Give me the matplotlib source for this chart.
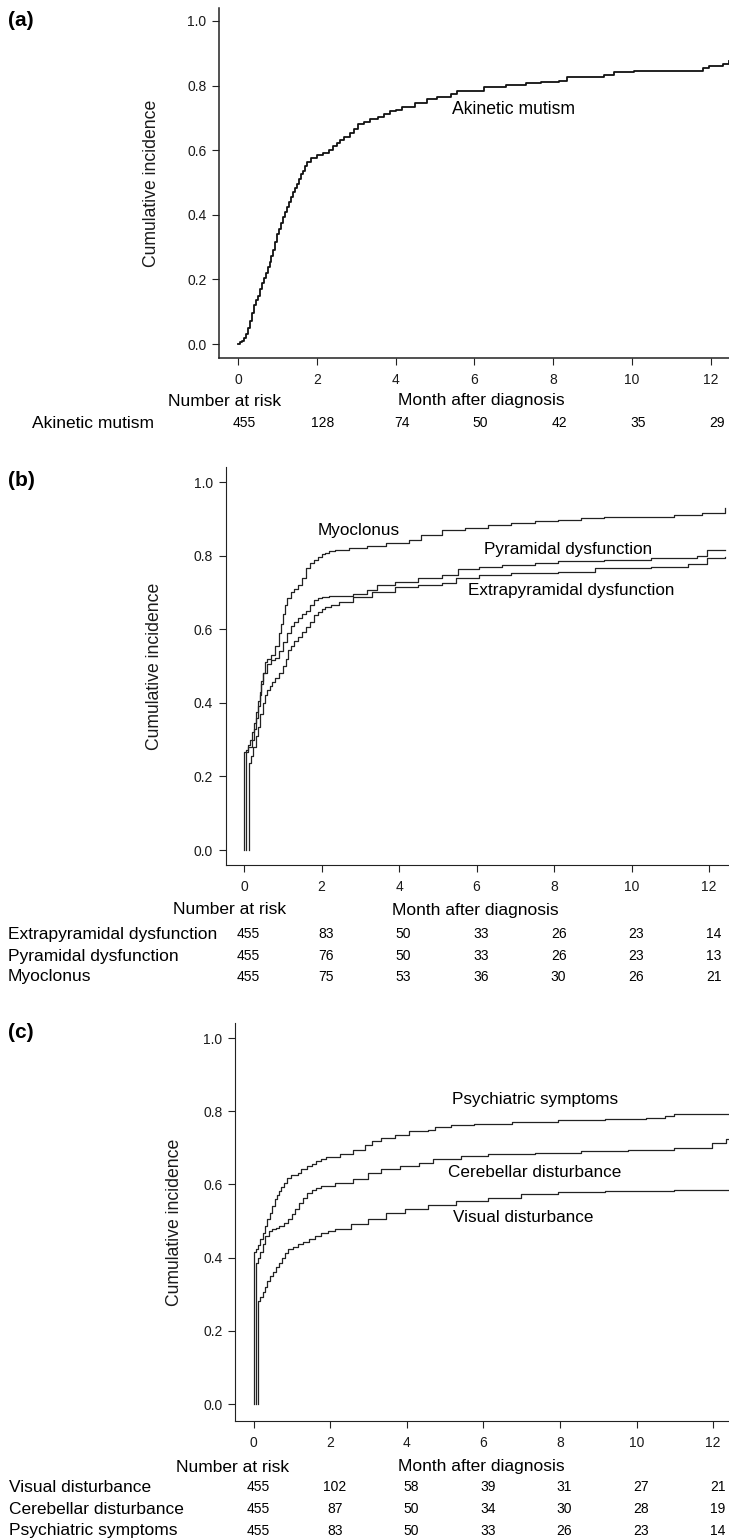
import matplotlib
matplotlib.use("Agg")
import matplotlib.pyplot as plt
import matplotlib.transforms as mtransforms

plt.rcParams['font.family'] = ['Liberation Sans', 'DejaVu Sans']

W, H = 729, 1540

months = [0, 2, 4, 6, 8, 10, 12]

# (a) akinetic mutism
akinetic_t = [0, 0.05, 0.1, 0.15, 0.2, 0.25, 0.3, 0.35, 0.4, 0.45, 0.5, 0.55, 0.6, 0.65, 0.7, 0.75,
              0.8, 0.85, 0.9, 0.95, 1.0, 1.05, 1.1, 1.15, 1.2, 1.25, 1.3, 1.35, 1.4, 1.45, 1.5, 1.55,
              1.6, 1.65, 1.7, 1.75, 1.85, 2.0, 2.15, 2.3, 2.4, 2.5, 2.6, 2.7, 2.85, 2.95, 3.05, 3.2,
              3.35, 3.55, 3.7, 3.85, 4.0, 4.15, 4.5, 4.8, 5.05, 5.4, 5.55, 6.25, 6.8, 7.3, 7.7, 8.15,
              8.35, 9.3, 9.55, 10.05, 11.8, 11.95, 12.3, 12.45]
akinetic_v = [0.0, 0.005, 0.01, 0.02, 0.03, 0.05, 0.07, 0.095, 0.12, 0.135, 0.15, 0.17, 0.19, 0.205,
              0.22, 0.237, 0.255, 0.272, 0.29, 0.315, 0.34, 0.357, 0.375, 0.392, 0.41, 0.425, 0.44,
              0.455, 0.47, 0.482, 0.495, 0.51, 0.525, 0.537, 0.55, 0.565, 0.575, 0.585, 0.592, 0.6,
              0.612, 0.622, 0.632, 0.642, 0.652, 0.665, 0.68, 0.688, 0.696, 0.703, 0.712, 0.72,
              0.726, 0.735, 0.747, 0.758, 0.766, 0.775, 0.784, 0.795, 0.802, 0.807, 0.811, 0.815,
              0.826, 0.832, 0.842, 0.846, 0.855, 0.862, 0.868, 0.876]
risk_akinetic = [455, 128, 74, 50, 42, 35, 29]

# (b) myoclonus / pyramidal / extrapyramidal
myo_t = [0.0, 0.0, 0.1, 0.2, 0.25, 0.3, 0.35, 0.4, 0.45, 0.5, 0.55, 0.6, 0.7, 0.8, 0.9, 0.95, 1.0,
         1.05, 1.1, 1.2, 1.3, 1.4, 1.5, 1.6, 1.7, 1.8, 1.9, 2.0, 2.1, 2.2, 2.34, 2.7, 3.18, 3.66, 4.02,
         4.26, 4.56, 5.1, 5.7, 6.3, 6.9, 7.5, 8.1, 8.7, 9.3, 10.5, 11.1, 11.82, 12.42]
myo_v = [0.0, 0.267, 0.28, 0.3, 0.33, 0.36, 0.39, 0.42, 0.45, 0.48, 0.51, 0.52, 0.53, 0.555, 0.59,
         0.615, 0.64, 0.665, 0.685, 0.702, 0.71, 0.72, 0.74, 0.765, 0.78, 0.787, 0.797, 0.803, 0.808,
         0.812, 0.815, 0.82, 0.826, 0.833, 0.835, 0.842, 0.856, 0.87, 0.876, 0.883, 0.888, 0.894,
         0.897, 0.901, 0.904, 0.906, 0.91, 0.915, 0.928]
pyr_t = [0.05, 0.05, 0.1, 0.15, 0.2, 0.25, 0.3, 0.35, 0.4, 0.45, 0.5, 0.6, 0.7, 0.8, 0.9, 1.0, 1.1,
         1.2, 1.3, 1.4, 1.5, 1.6, 1.7, 1.8, 1.9, 2.0, 2.2, 2.82, 3.18, 3.42, 3.9, 4.5, 5.1, 5.52, 6.06,
         6.66, 7.5, 8.1, 9.3, 10.5, 11.7, 11.94, 12.42]
pyr_v = [0.0, 0.272, 0.285, 0.3, 0.32, 0.345, 0.375, 0.405, 0.43, 0.46, 0.48, 0.505, 0.515, 0.522,
         0.54, 0.565, 0.59, 0.61, 0.62, 0.63, 0.64, 0.65, 0.665, 0.678, 0.684, 0.688, 0.691, 0.697,
         0.707, 0.72, 0.729, 0.738, 0.747, 0.763, 0.77, 0.774, 0.779, 0.784, 0.788, 0.793, 0.799,
         0.815, 0.815]
extra_t = [0.12, 0.12, 0.18, 0.24, 0.3, 0.36, 0.42, 0.48, 0.54, 0.6, 0.66, 0.72, 0.8, 0.9, 1.0, 1.08,
           1.14, 1.2, 1.3, 1.4, 1.5, 1.6, 1.7, 1.8, 1.9, 2.0, 2.1, 2.25, 2.46, 2.82, 3.3, 3.9, 4.5,
           5.1, 5.46, 6.06, 6.9, 8.1, 9.06, 10.5, 11.46, 11.94, 12.42]
extra_v = [0.0, 0.236, 0.255, 0.28, 0.31, 0.335, 0.37, 0.399, 0.42, 0.435, 0.447, 0.457, 0.467, 0.48,
           0.5, 0.52, 0.543, 0.555, 0.568, 0.58, 0.592, 0.605, 0.62, 0.638, 0.648, 0.655, 0.66,
           0.667, 0.675, 0.688, 0.702, 0.716, 0.72, 0.725, 0.738, 0.747, 0.752, 0.756, 0.765, 0.77,
           0.777, 0.793, 0.795]
risk_extra = [455, 83, 50, 33, 26, 23, 14]
risk_pyr = [455, 76, 50, 33, 26, 23, 13]
risk_myo = [455, 75, 53, 36, 30, 26, 21]

# (c) psychiatric / cerebellar / visual
psy_t = [0.0, 0.0, 0.06, 0.12, 0.18, 0.24, 0.3, 0.36, 0.43, 0.49, 0.55, 0.61, 0.67, 0.73, 0.79, 0.88,
         0.97, 1.15, 1.25, 1.4, 1.52, 1.64, 1.76, 1.88, 2.25, 2.61, 2.92, 3.1, 3.34, 3.7, 4.07, 4.55,
         4.74, 5.16, 5.77, 6.74, 7.96, 9.17, 10.26, 10.75, 10.99, 12.42]
psy_v = [0.0, 0.414, 0.423, 0.435, 0.45, 0.468, 0.486, 0.505, 0.523, 0.54, 0.559, 0.57, 0.582, 0.594,
         0.605, 0.618, 0.627, 0.632, 0.642, 0.65, 0.657, 0.664, 0.67, 0.675, 0.682, 0.695, 0.709,
         0.718, 0.727, 0.736, 0.745, 0.75, 0.757, 0.762, 0.766, 0.77, 0.775, 0.779, 0.782, 0.786,
         0.791, 0.791]
cer_t = [0.06, 0.06, 0.12, 0.18, 0.24, 0.3, 0.4, 0.49, 0.58, 0.67, 0.79, 0.91, 1.0, 1.09, 1.18, 1.28,
         1.4, 1.52, 1.64, 1.76, 2.13, 2.61, 2.98, 3.34, 3.83, 4.31, 4.68, 5.41, 6.13, 7.35, 8.56, 9.78,
         10.99, 11.96, 12.33, 12.42]
cer_v = [0.0, 0.386, 0.398, 0.414, 0.437, 0.459, 0.472, 0.477, 0.482, 0.486, 0.495, 0.505, 0.518,
         0.532, 0.548, 0.564, 0.576, 0.586, 0.591, 0.595, 0.605, 0.614, 0.63, 0.641, 0.65, 0.659,
         0.67, 0.677, 0.682, 0.686, 0.691, 0.694, 0.7, 0.714, 0.725, 0.725]
vis_t = [0.13, 0.13, 0.18, 0.24, 0.3, 0.36, 0.43, 0.5, 0.58, 0.67, 0.75, 0.83, 0.91, 1.03, 1.15, 1.3,
         1.46, 1.6, 1.76, 1.95, 2.13, 2.55, 2.98, 3.46, 3.95, 4.55, 5.28, 6.13, 6.98, 7.96, 9.17,
         10.99, 12.42]
vis_v = [0.0, 0.282, 0.292, 0.305, 0.32, 0.335, 0.35, 0.362, 0.374, 0.386, 0.4, 0.412, 0.423, 0.43,
         0.436, 0.443, 0.45, 0.46, 0.468, 0.473, 0.477, 0.491, 0.505, 0.523, 0.532, 0.545, 0.555,
         0.564, 0.573, 0.579, 0.582, 0.585, 0.585]
risk_vis = [455, 102, 58, 39, 31, 27, 21]
risk_cer = [455, 87, 50, 34, 30, 28, 19]
risk_psy = [455, 83, 50, 33, 26, 23, 14]


fig = plt.figure(figsize=(W / 100, H / 100), dpi=100)


def fy(y):
    return 1 - y / H


def panel(left, top, bottom, x0, px_month, y_one, y_zero, lw_axis):
    # axes box from pixel measurements
    ax = fig.add_axes([left / W, fy(bottom), (W - left) / W, (bottom - top) / H])
    ax.set_xlim((left - x0) / px_month, (W - x0) / px_month)
    unit = y_zero - y_one
    ax.set_ylim(-(bottom - y_zero) / unit, 1 + (y_one - top) / unit)
    ax.spines['top'].set_visible(False)
    ax.spines['right'].set_visible(False)
    for s in ['left', 'bottom']:
        ax.spines[s].set_linewidth(lw_axis)
        ax.spines[s].set_color('#222222')
    ax.set_xticks(months)
    ax.set_yticks([0, 0.2, 0.4, 0.6, 0.8, 1.0])
    ax.set_yticklabels(['0.0', '0.2', '0.4', '0.6', '0.8', '1.0'])
    ax.tick_params(axis='both', labelsize=10, length=5, width=0.8, color='#222222',
                   labelcolor='#1a1a1a')
    ax.tick_params(axis='x', pad=6)
    ax.tick_params(axis='y', pad=4)
    ax.set_ylabel('Cumulative incidence', fontsize=12.7, color='#1a1a1a')
    return ax


def risk_table(ax, rows, y_head, y_rows, label_x, nar_x, month_x, shift):
    tr = mtransforms.blended_transform_factory(ax.transData, fig.transFigure)
    fig.text(nar_x / W, fy(y_head), 'Number at risk', fontsize=12.5, ha='center', va='center')
    fig.text(month_x / W, fy(y_head), 'Month after diagnosis', fontsize=12.5, ha='center', va='center')
    for (name, vals), yr in zip(rows, y_rows):
        fig.text(label_x / W, fy(yr), name, fontsize=12.5, ha='left', va='center')
        for m, n in zip(months, vals):
            ax.text(m + shift, fy(yr), str(n), transform=tr, fontsize=10, ha='center', va='center')


# ---- (a)
ax1 = panel(219, 8, 358, 238, 39.4, 21, 344, 1.1)
ax1.step(akinetic_t, akinetic_v, where='post', color='#111111', lw=1.3)
ax1.text(7.0, 0.727, 'Akinetic mutism', fontsize=12.7, ha='center', va='center')
ax1.yaxis.set_label_coords((160 - 219) / (W - 219), 0.5)
fig.text(21 / W, fy(21), '(a)', fontsize=15, fontweight='bold', ha='center', va='center')
risk_table(ax1, [('Akinetic mutism', risk_akinetic)], 401, [423], 32, 225, 481, 0.15)

# ---- (b)
ax2 = panel(225.6, 467, 865, 244, 38.75, 482, 850, 0.8)
ax2.step(myo_t, myo_v, where='post', color='#222222', lw=0.9)
ax2.step(pyr_t, pyr_v, where='post', color='#222222', lw=0.9)
ax2.step(extra_t, extra_v, where='post', color='#222222', lw=0.9)
ax2.text(2.95, 0.867, 'Myoclonus', fontsize=12.3, ha='center', va='center')
ax2.text(8.36, 0.817, 'Pyramidal dysfunction', fontsize=12.3, ha='center', va='center')
ax2.text(8.44, 0.704, 'Extrapyramidal dysfunction', fontsize=12.3, ha='center', va='center')
ax2.yaxis.set_label_coords((163 - 225.6) / (W - 225.6), 0.5)
fig.text(21 / W, fy(481), '(b)', fontsize=15, fontweight='bold', ha='center', va='center')
risk_table(ax2, [('Extrapyramidal dysfunction', risk_extra),
                 ('Pyramidal dysfunction', risk_pyr),
                 ('Myoclonus', risk_myo)],
           910, [934, 956, 977], 8, 230, 475, 0.12)

# ---- (c)
ax3 = panel(235, 1023, 1421, 253.5, 38.3, 1038, 1404, 0.8)
ax3.step(psy_t, psy_v, where='post', color='#222222', lw=0.9)
ax3.step(cer_t, cer_v, where='post', color='#222222', lw=0.9)
ax3.step(vis_t, vis_v, where='post', color='#222222', lw=0.9)
ax3.text(7.35, 0.832, 'Psychiatric symptoms', fontsize=12.3, ha='center', va='center')
ax3.text(7.35, 0.632, 'Cerebellar disturbance', fontsize=12.3, ha='center', va='center')
ax3.text(7.04, 0.509, 'Visual disturbance', fontsize=12.3, ha='center', va='center')
ax3.yaxis.set_label_coords((183 - 235) / (W - 235), 0.5)
fig.text(21 / W, fy(1033), '(c)', fontsize=15, fontweight='bold', ha='center', va='center')
risk_table(ax3, [('Visual disturbance', risk_vis),
                 ('Cerebellar disturbance', risk_cer),
                 ('Psychiatric symptoms', risk_psy)],
           1467, [1487, 1509, 1531], 9, 233, 481, 0.12)

fig.savefig('out.png', dpi=100)
